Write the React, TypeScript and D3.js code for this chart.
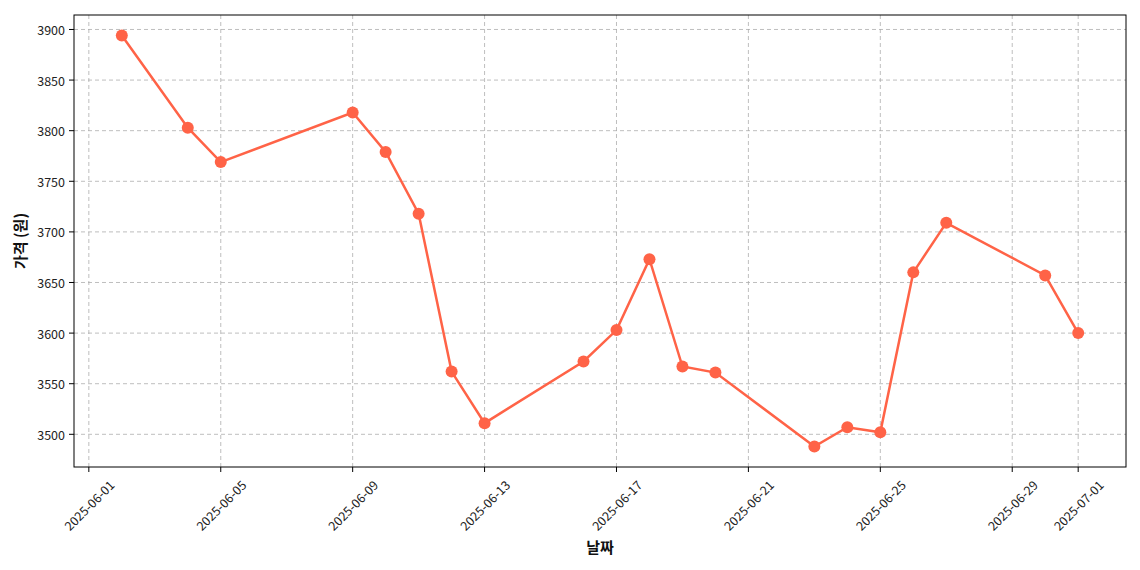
import * as d3 from "d3";

const dates = [
  "2025-06-02", "2025-06-04", "2025-06-05", "2025-06-09", "2025-06-10",
  "2025-06-11", "2025-06-12", "2025-06-13", "2025-06-16", "2025-06-17",
  "2025-06-18", "2025-06-19", "2025-06-20", "2025-06-23", "2025-06-24",
  "2025-06-25", "2025-06-26", "2025-06-27", "2025-06-30", "2025-07-01",
];
const prices = [
  3894, 3803, 3769, 3818, 3779,
  3718, 3562, 3511, 3572, 3603,
  3673, 3567, 3561, 3488, 3507,
  3502, 3660, 3709, 3657, 3600,
];
const xTickLabels = [
  "2025-06-01", "2025-06-05", "2025-06-09", "2025-06-13", "2025-06-17",
  "2025-06-21", "2025-06-25", "2025-06-29", "2025-07-01",
];
const yTicks = [3500, 3550, 3600, 3650, 3700, 3750, 3800, 3850, 3900];

const W = 1140;
const H = 570;
const left = 74;
const right = 1126;
const top = 15;
const bottom = 467;
const FONT = "'Noto Sans CJK KR', 'Open Sans', sans-serif";
const COLOR = "#ff6347";

const parse = d3.utcParse("%Y-%m-%d");

export default function App() {
  const pts = dates.map((d, i) => ({ t: parse(d)!, v: prices[i] }));
  const [t0, t1] = d3.extent(pts, (p) => +p.t) as [number, number];
  const padT = (t1 - t0) * 0.05;
  const [v0, v1] = d3.extent(prices) as [number, number];
  const padV = (v1 - v0) * 0.05;

  // matplotlib-style 5% margins
  const x = d3.scaleUtc().domain([new Date(t0 - padT), new Date(t1 + padT)]).range([left, right]);
  const y = d3.scaleLinear().domain([v0 - padV, v1 + padV]).range([bottom, top]);

  const line = d3
    .line<{ t: Date; v: number }>()
    .x((p) => x(p.t))
    .y((p) => y(p.v));

  const xTicks = xTickLabels.map((s) => ({ s, px: x(parse(s)!) }));

  return (
    <svg width={W} height={H} style={{ position: "absolute", left: 0, top: 0 }} fontFamily={FONT}>
      <rect width={W} height={H} fill="#fff" />
      <g stroke="#a8a8a8" strokeOpacity={0.75} strokeDasharray="4,3" strokeWidth={1}>
        {xTicks.map((tk) => (
          <line key={tk.s} x1={tk.px} x2={tk.px} y1={top} y2={bottom} />
        ))}
        {yTicks.map((v) => (
          <line key={v} x1={left} x2={right} y1={y(v)} y2={y(v)} />
        ))}
      </g>

      <path d={line(pts) ?? ""} fill="none" stroke={COLOR} strokeWidth={2.5} />
      {pts.map((p, i) => (
        <circle key={i} cx={x(p.t)} cy={y(p.v)} r={6} fill={COLOR} />
      ))}

      <rect x={left} y={top} width={right - left} height={bottom - top} fill="none" stroke="#000" strokeWidth={1} />

      {yTicks.map((v) => (
        <g key={v}>
          <line x1={left - 5} x2={left} y1={y(v)} y2={y(v)} stroke="#000" />
          <text x={left - 9} y={y(v)} textAnchor="end" dominantBaseline="central" fontSize={12.5} fill="#222">
            {v}
          </text>
        </g>
      ))}
      {xTicks.map((tk) => (
        <g key={tk.s}>
          <line x1={tk.px} x2={tk.px} y1={bottom} y2={bottom + 5} stroke="#000" />
          <text
            transform={`translate(${tk.px},${bottom + 38}) rotate(-45)`}
            textAnchor="middle"
            dominantBaseline="central"
            fontSize={12.5}
            fill="#222"
          >
            {tk.s}
          </text>
        </g>
      ))}

      <text x={(left + right) / 2} y={546} textAnchor="middle" dominantBaseline="central" fontSize={15} fontWeight="bold" fill="#111">
        날짜
      </text>
      <text
        transform={`translate(19,${(top + bottom) / 2}) rotate(-90)`}
        textAnchor="middle"
        dominantBaseline="central"
        fontSize={15}
        fontWeight="bold"
        fill="#111"
      >
        가격 (원)
      </text>
    </svg>
  );
}
